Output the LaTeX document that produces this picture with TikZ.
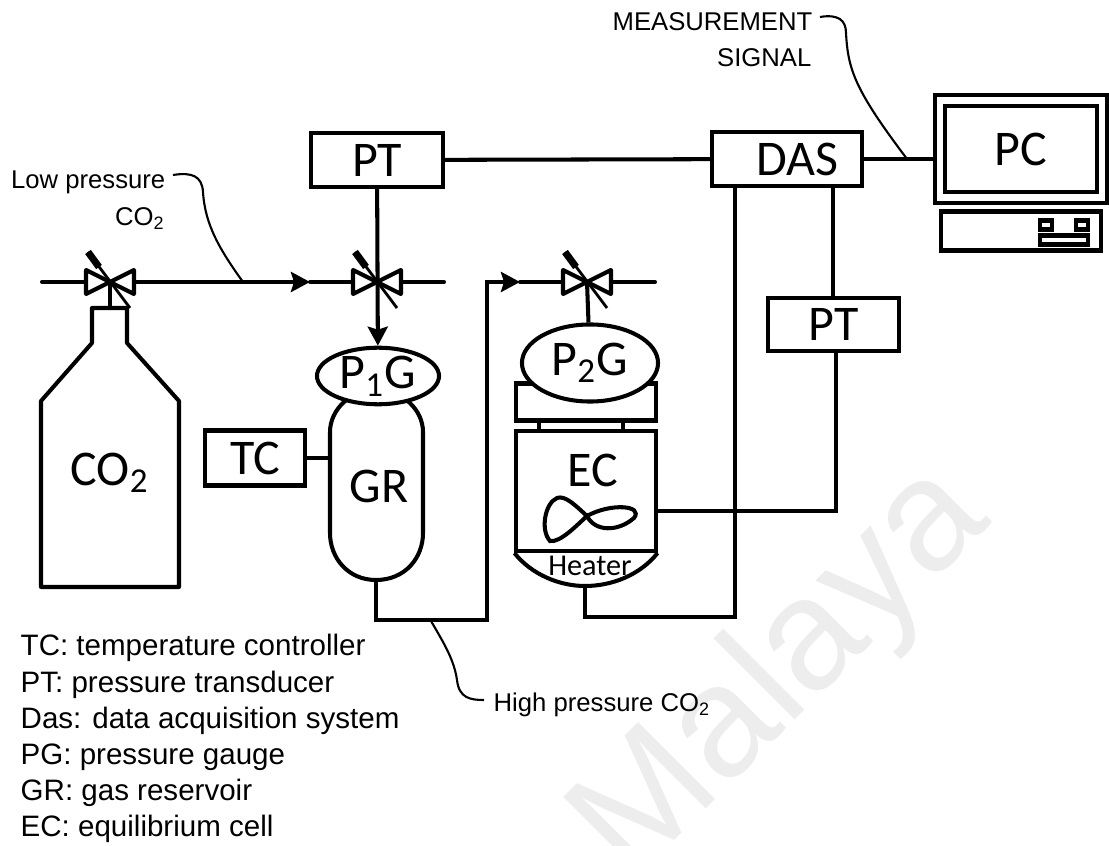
\documentclass[tikz,border=0pt]{standalone}
\usepackage{fontspec}
\setmainfont{Liberation Sans}
\newfontfamily\calfont{Carlito}
\usetikzlibrary{arrows.meta,shapes.geometric}

\begin{document}
\begin{tikzpicture}[x=.01cm,y=-.01cm,
  pipe/.style={line width=1.15pt},
  lead/.style={line width=.6pt},
  route/.style={pipe,-{Stealth[length=1.9mm,width=2mm,inset=.3mm]}},
  unit/.style={draw,pipe,fill=white,inner sep=0pt,font=\calfont\fontsize{14.2}{14.2}\selectfont},
  word/.style={inner sep=0pt,font=\calfont\fontsize{14.2}{14.2}\selectfont},
  note/.style={inner sep=0pt,font=\fontsize{8.4}{8.4}\selectfont},
  tag/.style={inner sep=0pt,font=\fontsize{7.3}{7.3}\selectfont},
  valve/.pic={
    \draw[pipe,line join=round,fill=white] (-24,-12) -- (0,0) -- (-24,12) -- cycle;
    \draw[pipe,line join=round,fill=white] (24,-12) -- (0,0) -- (24,12) -- cycle;
    \draw[line width=.8pt] (-22,-30) -- (20,26);
    \draw[line width=2pt] (-22,-30) -- (-11,-15);
  }
]
  \useasboundingbox (0,0) rectangle (1109,846);
  % watermark
  \node[rotate=45,text=black!7,anchor=base,inner sep=0pt,font=\fontsize{45}{45}\selectfont] (mark) at (812,703) {Malaya};
  % upper boxes
  \node[unit,minimum width=1.32cm,minimum height=.54cm] (pt1) at (377,160) {PT};
  \node[unit,minimum width=1.5cm,minimum height=.54cm] (das) at (787,159) {\hspace*{.2cm}DAS};
  \node[unit,minimum width=1.31cm,minimum height=.53cm] (pt2) at (833.5,324.5) {PT};
  \node[unit,minimum width=1cm,minimum height=.55cm] (tc) at (255,458) {TC};
  % computer
  \node[unit,minimum width=1.72cm,minimum height=1.08cm] (screen) at (1021,149) {};
  \node[unit,minimum width=1.51cm,minimum height=.86cm] (pc) at (1021,149) {PC};
  \node[unit,minimum width=1.59cm,minimum height=.39cm] (case) at (1021,231) {};
  \node[unit,minimum width=.12cm,minimum height=.09cm] (btna) at (1046,225) {};
  \node[unit,minimum width=.12cm,minimum height=.09cm] (btnb) at (1082,225) {};
  \node[unit,minimum width=.48cm,minimum height=.09cm] (slot) at (1064,240) {};
  % gas cylinder
  \draw[pipe,line join=round] (92,308) -- (92,343) -- (41,401) -- (41,587) -- (179,587)
    -- (179,401) -- (127,343) -- (127,308) -- cycle;
  \node[word] (co2) at (110,473) {CO\textsubscript{2}};
  % reservoir
  \coordinate (grtop) at (376,390);
  \coordinate (grbot) at (376,580);
  \draw[pipe] (grbot) .. controls (348,580) and (330,558) .. (330,533) -- (330,432)
    .. controls (330,410) and (350,390) .. (grtop) .. controls (403,390) and (423,410) .. (423,432)
    -- (423,533) .. controls (423,558) and (405,580) .. (grbot);
  \node[word] (gr) at (379,486) {GR};
  \node[unit,ellipse,minimum width=1.22cm,minimum height=.55cm] (p1g) at (378,376) {P\textsubscript{1}G};
  % equilibrium cell
  \node[unit,minimum width=1.39cm,minimum height=.37cm] (lid) at (586,402) {};
  \node[unit,ellipse,minimum width=1.36cm,minimum height=.77cm] (p2g) at (590,363) {P\textsubscript{2}G};
  \node[unit,minimum width=1.39cm,minimum height=1.2cm] (ec) at (586,491) {};
  \node[word] (eclabel) at (593,470) {EC};
  \draw[pipe] (539,420) -- (539,431) (623,420) -- (623,431);
  \coordinate (heat) at (585,586);
  \draw[pipe] (ec.south west) .. controls (532,575) and (560,586) .. (heat)
    .. controls (612,586) and (640,575) .. (ec.south east);
  \node[inner sep=0pt,font=\calfont\fontsize{8.6}{8.6}\selectfont] (heater) at (590,566) {Heater};
  \coordinate (stir) at (587,516);
  \draw[pipe] (stir) .. controls (575,505) and (565,495) .. (557,498) .. controls (545,503) and (540,530) .. (550,541)
    .. controls (560,543) and (577,525) .. (stir) .. controls (595,532) and (618,532) .. (634,518)
    .. controls (644,505) and (610,503) .. (stir);
  % pipes and valves
  \coordinate (inlet) at (42,282);
  \coordinate (v1) at (110,282);
  \coordinate (v2) at (377,282);
  \coordinate (v3) at (587,282);
  \coordinate (tee) at (310,282);
  \coordinate (entry) at (520,282);
  \draw[pipe,line cap=round] (inlet) -- (v1) (tee) -- (444,282);
  \draw[pipe] (v1) -- (110,308);
  \draw[route] (v1) -- (tee);
  \draw[route] (pt1) -- (p1g);
  \draw[pipe,line cap=round] (entry) -- (655,282);
  \draw[pipe] (v3) -- (p2g);
  \draw[route] (grbot) -- (376,620) -- (487,620) -- (487,282) -- (entry);
  \pic at (v1) {valve};
  \pic at (v2) {valve};
  \pic at (v3) {valve};
  % wires
  \draw[pipe] (305,458) -- (330,458);
  \draw[pipe] (pt1) -- (das);
  \draw[pipe] (das.east) -- (screen.west |- das.east);
  \draw[pipe] (735,186) -- (735,617) -- (585,617) -- (heat);
  \draw[pipe] (833,186) -- (833,298);
  \draw[pipe] (836,351) -- (836,511) -- (655,511);
  % labels
  \node[tag,anchor=east] (signal) at (813,22) {MEASUREMENT};
  \node[tag,anchor=east] (signalb) at (812,58) {SIGNAL};
  \node[tag,anchor=east] (low) at (166,182) {Low pressure};
  \node[tag,anchor=east] (lowb) at (166,219) {CO\textsubscript{2}};
  \node[tag,anchor=west] (high) at (493,705) {High pressure CO\textsubscript{2}};
  \draw[lead] (820,17) .. controls (838,14) and (846,20) .. (846,33) .. controls (848,70) and (855,90) .. (907,159);
  \draw[lead] (173,175) .. controls (192,172) and (202,176) .. (203,192) .. controls (205,225) and (220,250) .. (243,282);
  \draw[lead] (431,621) .. controls (445,645) and (454,660) .. (457,680) .. controls (459,698) and (470,700) .. (484,700);
  % legend
  \node[note,anchor=west] (tcnote) at (20,648) {TC: temperature controller};
  \node[note,anchor=west] (ptnote) at (20,685) {PT: pressure transducer};
  \node[note,anchor=west] (dasnote) at (20,721) {Das: data acquisition system};
  \node[note,anchor=west] (pgnote) at (20,757) {PG: pressure gauge};
  \node[note,anchor=west] (grnote) at (20,793) {GR: gas reservoir};
  \node[note,anchor=west] (ecnote) at (20,829) {EC: equilibrium cell};
\end{tikzpicture}
\end{document}
